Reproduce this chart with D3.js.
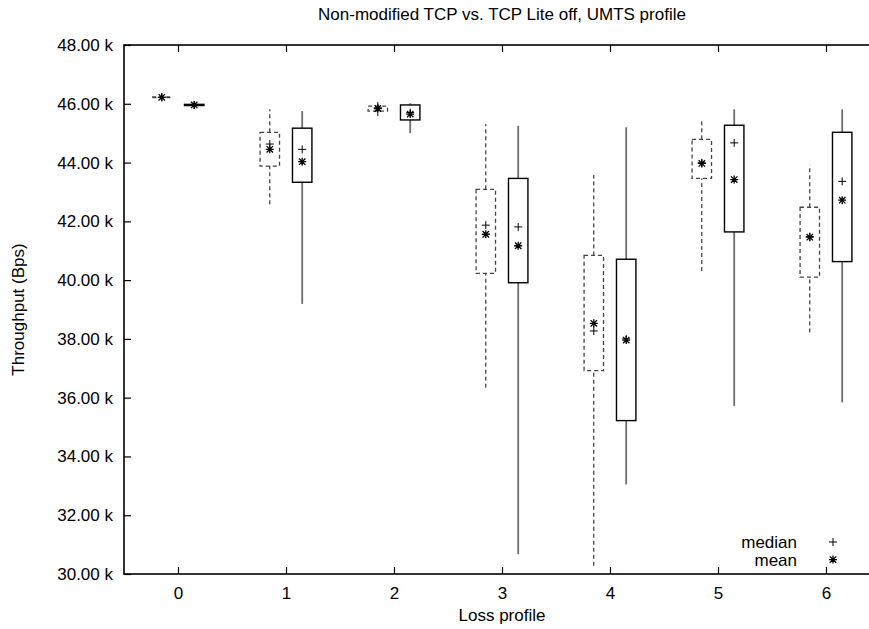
<!DOCTYPE html>
<html lang="en">
<head>
<meta charset="UTF-8">
<title>Non-modified TCP vs. TCP Lite off, UMTS profile</title>
<script src="https://d3js.org/d3.v7.min.js"></script>
<style>
  body { margin: 0; background: #fff; }
  svg { display: block; font-family: "Liberation Sans", Arial, sans-serif; }
</style>
</head>
<body>
<div id="chart"></div>
<script>
// Loss profiles on the x axis
const lossProfiles = [0, 1, 2, 3, 4, 5, 6];
const yTicks = [30000, 32000, 34000, 36000, 38000, 40000, 42000, 44000, 46000, 48000];

// Non-modified TCP (dashed boxes), Bps
const nonModLow    = [46220, 42580, 45580, 36340, 30280, 40310, 38220];
const nonModQ1     = [46210, 43880, 45750, 40230, 36920, 43460, 40100];
const nonModMedian = [46220, 44630, 45860, 41870, 38270, 43990, 41480];
const nonModMean   = [46220, 44450, 45840, 41560, 38530, 43970, 41460];
const nonModQ3     = [46230, 45030, 45920, 43090, 40840, 44790, 42480];
const nonModHigh   = [46230, 45810, 46070, 45310, 43580, 45450, 43920];

// TCP Lite off (solid boxes), Bps
const liteLow    = [45960, 39190, 45000, 30670, 33050, 35720, 35840];
const liteQ1     = [45940, 43330, 45450, 39910, 35220, 41640, 40630];
const liteMedian = [45960, 44450, 45700, 41810, 38000, 44670, 43360];
const liteMean   = [45960, 44030, 45650, 41170, 37960, 43420, 42720];
const liteQ3     = [45980, 45170, 45960, 43460, 40710, 45270, 45030];
const liteHigh   = [45960, 45750, 46020, 45250, 45200, 45810, 45810];

const width = 869, height = 629;
const mLeft = 124, mRight = 880, mTop = 45, mBottom = 574;

const x = d3.scaleLinear().domain([-0.5, 6.5]).range([mLeft, mRight]);
const y = d3.scaleLinear().domain([30000, 48000]).range([mBottom, mTop]);

const svg = d3.select('#chart').append('svg')
  .attr('width', width)
  .attr('height', height);

// build per-series records
function series(low, q1, med, mean, q3, high, offset, dashed) {
  return lossProfiles.map((p, i) => ({
    p, low: low[i], q1: q1[i], med: med[i], mean: mean[i], q3: q3[i], high: high[i],
    offset, dashed
  }));
}
const boxes = series(nonModLow, nonModQ1, nonModMedian, nonModMean, nonModQ3, nonModHigh, -0.15, true)
  .concat(series(liteLow, liteQ1, liteMedian, liteMean, liteQ3, liteHigh, 0.15, false));

const boxW = 0.18;

// whiskers and boxes
const g = svg.append('g');
boxes.forEach(d => {
  const cx = x(d.p + d.offset);
  const segs = [[d.low, d.q1], [d.q3, d.high]];
  segs.forEach(([a, b]) => {
    if (Math.abs(y(a) - y(b)) < 0.5) return;
    g.append('line')
      .attr('x1', cx).attr('x2', cx)
      .attr('y1', y(a)).attr('y2', y(b))
      .attr('stroke', d.dashed ? '#111' : '#6e6e6e')
      .attr('stroke-width', d.dashed ? 1 : 1.8)
      .attr('stroke-dasharray', d.dashed ? '4,3' : null);
  });
  const x0 = x(d.p + d.offset - boxW / 2), x1 = x(d.p + d.offset + boxW / 2);
  g.append('rect')
    .attr('x', x0)
    .attr('y', y(d.q3))
    .attr('width', x1 - x0)
    .attr('height', Math.max(y(d.q1) - y(d.q3), 0.01))
    .attr('fill', 'none')
    .attr('stroke', d.dashed ? '#444' : '#000')
    .attr('stroke-width', d.dashed ? 1.3 : 1.4)
    .attr('stroke-dasharray', d.dashed ? '4,3' : null);
});

// markers
const plusPath = s => `M${-s},0H${s}M0,${-s}V${s}`;
const starPath = s => {
  const k = s * 0.8;
  return `M${-s},0H${s}M0,${-s}V${s}M${-k},${-k}L${k},${k}M${-k},${k}L${k},${-k}`;
};

boxes.forEach(d => {
  const cx = x(d.p + d.offset);
  g.append('path')
    .attr('d', plusPath(4))
    .attr('transform', `translate(${cx},${y(d.med)})`)
    .attr('stroke', '#000').attr('stroke-width', 1).attr('fill', 'none');
  g.append('path')
    .attr('d', starPath(4))
    .attr('transform', `translate(${cx},${y(d.mean)})`)
    .attr('stroke', '#000').attr('stroke-width', 1.3).attr('fill', 'none');
});

// axes, ticks inward and mirrored like gnuplot
const fmt = v => d3.format('.2f')(v / 1000) + ' k';
const axisL = d3.axisLeft(y).tickValues(yTicks).tickSize(-7).tickPadding(11).tickFormat(fmt);
const axisR = d3.axisRight(y).tickValues(yTicks).tickSize(-7).tickFormat('');
const axisB = d3.axisBottom(x).tickValues(lossProfiles).tickSize(-7).tickPadding(13).tickFormat(d3.format('d'));
const axisT = d3.axisTop(x).tickValues(lossProfiles).tickSize(-7).tickFormat('');

[[axisL, `translate(${mLeft},0)`], [axisR, `translate(${mRight},0)`],
 [axisB, `translate(0,${mBottom})`], [axisT, `translate(0,${mTop})`]].forEach(([ax, tr]) => {
  const a = svg.append('g').attr('transform', tr).call(ax);
  a.select('.domain').remove();
  a.selectAll('.tick line').attr('stroke', '#000').attr('stroke-width', 1.2);
  a.selectAll('.tick text').attr('font-size', 17).attr('font-family', '"Liberation Sans", Arial, sans-serif').attr('fill', '#000');
});

svg.append('rect')
  .attr('x', mLeft).attr('y', mTop)
  .attr('width', mRight - mLeft).attr('height', mBottom - mTop)
  .attr('fill', 'none').attr('stroke', '#000').attr('stroke-width', 1.6);

// titles
svg.append('text')
  .attr('x', (mLeft + mRight) / 2).attr('y', 20)
  .attr('text-anchor', 'middle').attr('font-size', 17)
  .text('Non-modified TCP vs. TCP Lite off, UMTS profile');

svg.append('text')
  .attr('x', (mLeft + mRight) / 2).attr('y', 621)
  .attr('text-anchor', 'middle').attr('font-size', 17)
  .text('Loss profile');

svg.append('text')
  .attr('transform', `translate(24,${(mTop + mBottom) / 2}) rotate(-90)`)
  .attr('text-anchor', 'middle').attr('font-size', 17)
  .text('Throughput (Bps)');

// legend
const legend = [['median', plusPath(4), 1], ['mean', starPath(4), 1.3]];
legend.forEach(([label, path, sw], i) => {
  const ly = 542 + i * 17.6;
  svg.append('text')
    .attr('x', 797).attr('y', ly).attr('dy', '0.35em')
    .attr('text-anchor', 'end').attr('font-size', 17)
    .text(label);
  svg.append('path')
    .attr('d', path)
    .attr('transform', `translate(833,${ly})`)
    .attr('stroke', '#000').attr('stroke-width', sw).attr('fill', 'none');
});
</script>
</body>
</html>
